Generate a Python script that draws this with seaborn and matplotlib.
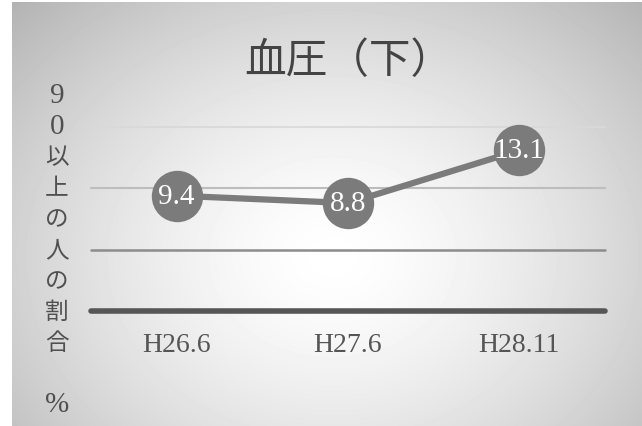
import numpy as np
import pandas as pd
import matplotlib
matplotlib.use("Agg")
import matplotlib.pyplot as plt
import seaborn as sns

# Data
periods = ["H26.6", "H27.6", "H28.11"]
rates = [9.4, 8.8, 13.1]
grid_levels = [0, 5, 10, 15]
title = "血圧（下）"
ylabel_chars = ["9", "0", "以", "上", "の", "人", "の", "割", "合", "", "%"]

df = pd.DataFrame({"period": periods, "rate": rates})

sns.set_style("white")
plt.rcParams["font.family"] = ["Noto Sans CJK JP", "DejaVu Sans"]

fig = plt.figure(figsize=(6.42, 4.27), dpi=100)
fig.patch.set_facecolor("white")

# radial gradient background (picture starts a few px in from the left/top)
bg = fig.add_axes([12 / 642, 0, 630 / 642, 424 / 427], zorder=0)
yy, xx = np.mgrid[0:424, 0:630]
r = np.sqrt(((xx - 320) / 360.0) ** 2 + ((yy - 255) / 290.0) ** 2)
shade = 1.0 - 0.30 * np.clip(r / 1.25, 0, 1) ** 1.5
bg.imshow(shade, cmap="gray", vmin=0, vmax=1, aspect="auto", interpolation="bilinear")
bg.axis("off")

ax = fig.add_axes([91 / 642, 1 - 312 / 427, 514 / 642, 184 / 427], zorder=1)
ax.patch.set_alpha(0)

grid_colors = ["#565656", "#8c8c8c", "#bdbdbd", "#d9d9d9"]
grid_widths = [4, 1.8, 1.5, 1.3]
for lvl, c, w in zip(grid_levels, grid_colors, grid_widths):
    ax.axhline(lvl, color=c, lw=w, zorder=1, clip_on=False)

sns.lineplot(data=df, x="period", y="rate", ax=ax, color="#7b7b7b", lw=4.5,
             marker="o", markersize=37, markeredgewidth=0, sort=False, zorder=3,
             clip_on=False)

for i, v in enumerate(rates):
    ax.text(i, v, f"{v:.1f}", ha="center", va="center", color="white",
            fontsize=21, family="Liberation Serif", zorder=4)

ax.set_xlim(-0.5, 2.5)
ax.set_ylim(0, 15)
ax.set_yticks([])
ax.set_xticks(range(len(periods)))
ax.set_xticklabels(periods, family="Liberation Serif", fontsize=20, color="#555555")
ax.tick_params(axis="x", length=0, pad=15)
ax.set_xlabel("")
ax.set_ylabel("")
for s in ax.spines.values():
    s.set_visible(False)

fig.text(348 / 642, 1 - 62 / 427, title, ha="center", va="center",
         fontsize=30, color="#444444")

y0 = 96
for k, ch in enumerate(ylabel_chars):
    if ch:
        fam = ["Liberation Serif"] if ch.isascii() else ["Noto Sans CJK JP", "DejaVu Sans"]
        fig.text(57 / 642, 1 - (y0 + k * 30.9) / 427, ch, ha="center", va="center",
                 fontsize=21 if ch.isascii() else 17, family=fam, color="#505050")

fig.savefig("out.png", dpi=100)
